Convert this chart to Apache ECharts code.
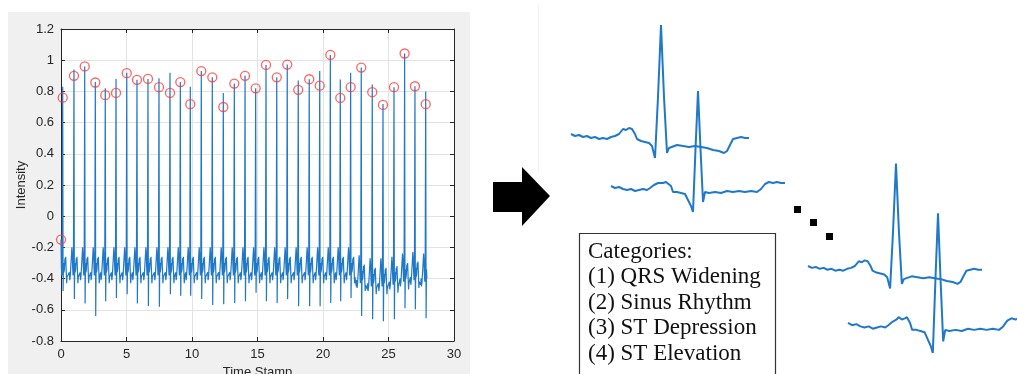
<!DOCTYPE html>
<html>
<head>
<meta charset="utf-8">
<style>
  html, body { margin: 0; padding: 0; background: #fff; }
  #wrap { position: relative; width: 1017px; height: 374px; overflow: hidden; }
  #figbg { position: absolute; left: 8px; top: 12px; width: 462px; height: 362px; background: #f0f0f0; }
  #chart { position: absolute; left: 0; top: 0; width: 1017px; height: 374px; }
</style>
<script src="https://cdn.jsdelivr.net/npm/echarts@6/dist/echarts.min.js"></script>
</head>
<body>
<div id="wrap">
  <div id="figbg"></div>
  <div id="chart"></div>
</div>
<script>
// R peak times (s)
const beatTimes = [0.13, 0.99, 1.81, 2.62, 3.38, 4.20, 5.02, 5.80, 6.64, 7.48, 8.32, 9.11, 9.87, 10.71, 11.55,
  12.39, 13.23, 14.05, 14.86, 15.65, 16.47, 17.27, 18.11, 18.95, 19.75, 20.56, 21.32, 22.11, 22.92, 23.76,
  24.58, 25.42, 26.23, 27.02, 27.84];
const spikeTops = [0.83, 0.94, 0.96, 0.86, 0.82, 0.88, 0.92, 0.875, 0.88, 0.885, 0.92, 0.86, 0.83, 0.93, 0.89,
  0.79, 0.85, 0.90, 0.82, 0.97, 0.89, 0.972, 0.87, 0.878, 0.93, 1.034, 0.876, 0.919, 0.953, 0.844,
  0.72, 0.827, 1.043, 0.833, 0.80];
const sDips = [-0.48, -0.53, -0.56, -0.64, -0.545, -0.525, -0.50, -0.56, -0.575, -0.58, -0.50, -0.51, -0.51, -0.53, -0.57,
  -0.565, -0.557, -0.545, -0.49, -0.545, -0.557, -0.53, -0.577, -0.577, -0.577, -0.557, -0.545, -0.525, -0.64, -0.66,
  -0.673, -0.66, -0.59, -0.596, -0.654];
const levelShift = [0, 0, 0, 0, 0, 0, 0, 0, 0, 0, 0, 0, 0, 0, 0,
  0, 0, 0, 0, 0, 0, 0, 0, 0, 0, 0, 0, 0, -0.05, -0.07,
  -0.07, -0.06, -0.04, -0.03, -0.04];
// one heartbeat between spikes (offset from R in s, level); null = R / S points
const waveOffsets = [-0.38, -0.35, -0.32, -0.28, -0.24, -0.20, -0.16, -0.13, -0.10, -0.07, -0.04, 0, 0.03,
  0.06, 0.09, 0.13, 0.17, 0.20, 0.23, 0.27, 0.30, 0.33];
const waveLevels = [-0.40, -0.36, -0.41, -0.38, -0.32, -0.26, -0.20, -0.24, -0.33, -0.38, -0.30, null, null,
  -0.30, -0.36, -0.34, -0.27, -0.31, -0.26, -0.36, -0.43, -0.39];

// red circles (detected peaks)
const markTimes = [0].concat(beatTimes);
const markValues = [-0.15, 0.76, 0.90, 0.96, 0.857, 0.776, 0.79, 0.917, 0.874, 0.88, 0.827, 0.79, 0.86, 0.718, 0.93, 0.89,
  0.70, 0.85, 0.90, 0.82, 0.97, 0.89, 0.972, 0.81, 0.878, 0.837, 1.034, 0.758, 0.827, 0.953, 0.795,
  0.713, 0.827, 1.043, 0.833, 0.718];

// example beats on the right
const snipATime = [0, 4, 8, 12, 16, 20, 24, 28, 32, 36, 40, 44, 48, 52, 55, 58, 61, 64, 66, 70, 74, 78, 81, 84, 87, 90, 93, 96, 98, 100,
  106, 112, 118, 124, 130, 136, 142, 148, 153, 156, 159, 162, 166, 170, 174, 178];
const snipAValue = [3, 1, 2, 0, 1, -1, 0, -2, -1, -2, 0, 1, 3, 8, 7, 9, 8, 3, -2, -4, -5, -6, -9, -21, 40, 112, 40, -16, -11, -9,
  -8, -9, -10, -9, -10, -11, -13, -14, -16, -14, -8, -2, -1, 0, -1, -1];
const snipBTime = [0, 4, 8, 12, 16, 20, 24, 28, 32, 36, 39, 43, 47, 49, 52, 55, 57, 60, 62, 66, 70, 74, 77, 80, 82, 84.5, 87, 89.5, 92, 94,
  98, 104, 110, 116, 122, 128, 134, 140, 146, 150, 154, 158, 162, 166, 170, 174];
const snipBValue = [3, 1, 2, 0, -1, 0, -2, -1, 0, -1, 1, 4, 6, 8, 6, 7, 8, 3, -3, -3, -4, -5, -11, -17, -23, 40, 98, 40, -13, -3,
  -4, -3, -4, -2, -3, -2, -3, -2, -3, 0, 5, 7, 6, 7, 6, 6];

const categories = ["Categories:", "(1) QRS Widening", "(2) Sinus Rhythm", "(3) ST Depression", "(4) ST Elevation"];

const rIdx = waveOffsets.indexOf(0);
const ecg = [[0, -0.15]];
beatTimes.forEach((t0, i) => {
  waveOffsets.forEach((dt, k) => {
    const t = +(t0 + dt).toFixed(3);
    if (t <= 0.02 || t > 27.95) return;
    let v;
    if (k === rIdx) v = spikeTops[i];
    else if (k === rIdx + 1) v = sDips[i];
    else v = waveLevels[k] + levelShift[i];
    ecg.push([t, v]);
  });
});
ecg.sort((a, b) => a[0] - b[0]);

const marks = markTimes.map((t, i) => [t, markValues[i]]);
const snipA = snipATime.map((t, i) => [t, snipAValue[i]]);
const snipB = snipBTime.map((t, i) => [t, snipBValue[i]]);

const axisColor = "#262626";
const sans = "'Liberation Sans', Arial, sans-serif";
const serif = "'Liberation Serif', 'DejaVu Serif', serif";
const blue = "#1f78c8";

const frameX = (pos) => ({
  gridIndex: 0, type: "value", position: pos, min: 0, max: 30, interval: 5,
  axisLine: { show: true, onZero: false, lineStyle: { color: axisColor, width: 1 } },
  axisTick: { show: true, inside: true, length: 4, lineStyle: { color: axisColor } },
  axisLabel: { show: false },
  splitLine: { show: false },
});
const frameY = (pos) => ({
  gridIndex: 0, type: "value", position: pos, min: -0.8, max: 1.2, interval: 0.2,
  axisLine: { show: true, onZero: false, lineStyle: { color: axisColor, width: 1 } },
  axisTick: { show: true, inside: true, length: 4, lineStyle: { color: axisColor } },
  axisLabel: { show: false },
  splitLine: { show: false },
});

// snippet grids: [left, top, width, height]
const snipGrids = [
  [571, 17, 178, 150],
  [611, 69, 174, 150],
  [808, 156, 174, 141],
  [848, 188, 180, 173],
];
const snipSeries = [snipA, snipB, snipA, snipB];
const snipMax = [178, 174, 178, 174];

const grids = [{
  left: 61, top: 29, width: 393, height: 312, show: true, backgroundColor: "#fff", borderWidth: 0,
  outerBoundsMode: "none", containLabel: false,
}].concat(snipGrids.map((g) => ({ left: g[0], top: g[1], width: g[2], height: g[3], outerBoundsMode: "none" })));

const xAxes = [
  Object.assign(frameX("bottom"), {
    name: "Time Stamp", nameLocation: "middle", nameGap: 25,
    nameTextStyle: { color: axisColor, fontSize: 13, fontFamily: sans },
    axisLabel: { show: true, color: axisColor, fontSize: 13, fontFamily: sans, margin: 7 },
    splitLine: { show: true, lineStyle: { color: "#e3e3e3", width: 1 } },
  }),
  frameX("top"),
].concat(snipGrids.map((g, i) => ({ gridIndex: i + 1, type: "value", min: 0, max: snipMax[i], show: false })));

const yAxes = [
  Object.assign(frameY("left"), {
    name: "Intensity", nameLocation: "middle", nameGap: 29, nameRotate: 90,
    nameTextStyle: { color: axisColor, fontSize: 13, fontFamily: sans },
    axisLabel: { show: true, color: axisColor, fontSize: 13, fontFamily: sans, margin: 7 },
    splitLine: { show: true, lineStyle: { color: "#e3e3e3", width: 1 } },
  }),
  frameY("right"),
].concat(snipGrids.map((g, i) => ({ gridIndex: i + 1, type: "value", min: -30, max: 120, show: false })));

const series = [
  {
    type: "line", xAxisIndex: 0, yAxisIndex: 0, data: ecg, showSymbol: false,
    lineStyle: { color: blue, width: 1.2 }, itemStyle: { color: blue }, z: 2,
  },
  {
    type: "scatter", xAxisIndex: 0, yAxisIndex: 0, data: marks, symbol: "circle", symbolSize: 9,
    itemStyle: { color: "rgba(0,0,0,0)", borderColor: "#ff3b3b", borderWidth: 1.3 }, z: 3,
  },
].concat(snipSeries.map((d, i) => ({
  type: "line", xAxisIndex: i + 2, yAxisIndex: i + 2, data: d, showSymbol: false,
  lineStyle: { color: blue, width: 2 }, itemStyle: { color: blue },
})));

const chart = echarts.init(document.getElementById("chart"), null, { renderer: "canvas" });
chart.setOption({
  animation: false,
  backgroundColor: "transparent",
  grid: grids,
  xAxis: xAxes,
  yAxis: yAxes,
  series: series,
  graphic: [
    { type: "line", shape: { x1: 538.5, y1: 5, x2: 538.5, y2: 173 }, style: { stroke: "#f2f2f2", lineWidth: 1 } },
    {
      type: "polygon",
      shape: { points: [[493, 182], [522, 182], [522, 167], [550, 196], [522, 226], [522, 212], [493, 212]] },
      style: { fill: "#000" },
    },
    { type: "rect", shape: { x: 794, y: 206, width: 7, height: 7 }, style: { fill: "#000" } },
    { type: "rect", shape: { x: 810, y: 219, width: 7, height: 7 }, style: { fill: "#000" } },
    { type: "rect", shape: { x: 826, y: 233, width: 7, height: 7 }, style: { fill: "#000" } },
    {
      type: "rect", shape: { x: 579.5, y: 233.5, width: 196, height: 150 },
      style: { fill: "#fff", stroke: "#333", lineWidth: 1.2 },
    },
    {
      type: "text", x: 588, y: 239,
      style: {
        text: categories.join("\n"), font: "23px " + serif, fill: "#111",
        lineHeight: 25.5, verticalAlign: "top", align: "left",
      },
    },
  ],
});
</script>
</body>
</html>
